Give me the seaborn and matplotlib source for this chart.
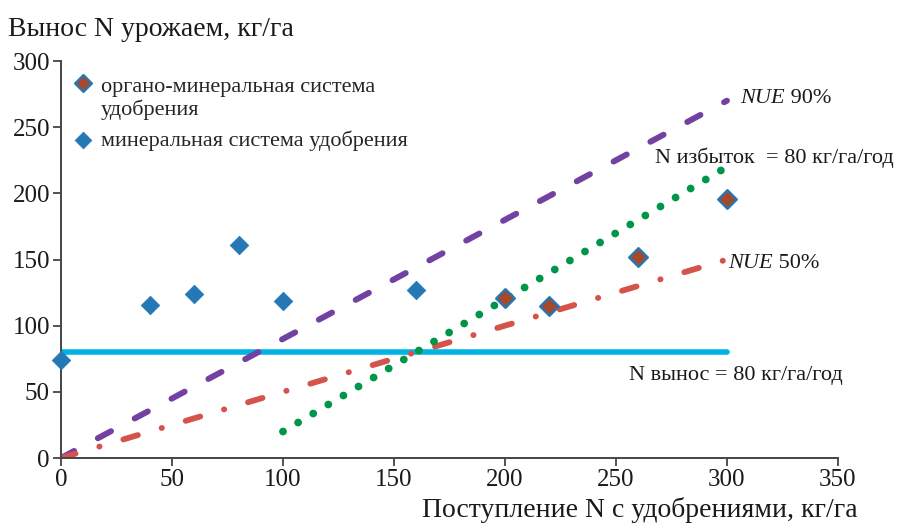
import matplotlib
matplotlib.use("Agg")
import matplotlib.pyplot as plt
from matplotlib.legend_handler import HandlerPathCollection
import seaborn as sns
import pandas as pd

# ---- data ----
mineral_x = [0, 40, 60, 80, 100, 160]
mineral_y = [74, 116, 124, 161, 119, 127]
organo_x = [200, 220, 260, 300]
organo_y = [121, 115, 152, 196]

line_x = [0, 300]
nue90_y = [0, 270]
nue50_y = [0, 150]
excess_x = [100, 300]
excess_y = [20, 220]
output_y = [80, 80]

x_ticks = [0, 50, 100, 150, 200, 250, 300, 350]
y_ticks = [0, 50, 100, 150, 200, 250, 300]

label_organo = "органо-минеральная система\nудобрения"
label_mineral = "минеральная система удобрения"

sns.set_theme(style="white")
plt.rcParams['font.family'] = ['Liberation Serif', 'DejaVu Serif']

fig = plt.figure(figsize=(9.01, 5.25), dpi=100)
ax = fig.add_axes([0.0677, 0.1276, 0.8623, 0.7562])

c_purple = "#7341a1"
c_red = "#d4544b"
c_green = "#00964a"
c_cyan = "#00b4e6"
c_blue = "#2378b5"
c_brown = "#a6482b"

# lines
sns.lineplot(x=line_x, y=output_y, ax=ax, color=c_cyan, linewidth=4.0,
             solid_capstyle='round', zorder=2)
sns.lineplot(x=line_x, y=nue90_y, ax=ax, color=c_purple, linewidth=4.3,
             linestyle=(0, (2.5, 4.5)), dash_capstyle='round', zorder=2)
sns.lineplot(x=line_x, y=nue50_y, ax=ax, color=c_red, linewidth=4.2,
             linestyle=(0, (2.6, 4.25, 0.05, 4.25)), dash_capstyle='round', zorder=2)
sns.lineplot(x=excess_x, y=excess_y, ax=ax, color=c_green, linewidth=5.6,
             linestyle=(0, (0.01, 2.25)), dash_capstyle='round', zorder=2)

# points
sns.scatterplot(x=mineral_x, y=mineral_y, ax=ax, marker='D', s=90,
                color=c_blue, edgecolor=c_blue, linewidth=0.5, zorder=3,
                label=label_mineral, clip_on=False)
sns.scatterplot(x=organo_x, y=organo_y, ax=ax, marker='D', s=90,
                color=c_brown, edgecolor=c_blue, linewidth=1.7, zorder=4,
                label=label_organo, clip_on=False)

ax.set_xlim(0, 350)
ax.set_ylim(0, 300)
ax.set_xticks(x_ticks)
ax.set_yticks(y_ticks)
ax.tick_params(axis='both', direction='out', length=6, width=1.3,
               color='#444444', labelsize=18, labelcolor='#1a1a1a', pad=2,
               left=True, bottom=True)
for side in ['top', 'right']:
    ax.spines[side].set_visible(False)
for side in ['left', 'bottom']:
    ax.spines[side].set_color('#444444')
    ax.spines[side].set_linewidth(1.4)
ax.set_xlabel("")
ax.set_ylabel("")

# legend (organo first)
handles, labels = ax.get_legend_handles_labels()
h_org = handles[labels.index(label_organo)]
h_min = handles[labels.index(label_mineral)]
leg = ax.legend([h_org, h_min], [label_organo, label_mineral],
                loc='upper left', bbox_to_anchor=(-0.006, 0.997), frameon=False,
                fontsize=16, handletextpad=0.29, labelspacing=0.45,
                borderaxespad=0.3, handlelength=1.0, markerscale=0.9,
                handler_map={h_org: HandlerPathCollection(yoffsets=[1.45])})

# annotations
fs = 16
t1 = ax.text(306, 272, "NUE", fontsize=fs, style='italic', va='center',
             ha='left', color='#1a1a1a')
ax.annotate(" 90%", xy=(1, 0), xycoords=t1, va='bottom', ha='left',
            fontsize=fs, color='#1a1a1a')
t2 = ax.text(300.5, 147, "NUE", fontsize=fs, style='italic', va='center',
             ha='left', color='#1a1a1a')
ax.annotate(" 50%", xy=(1, 0), xycoords=t2, va='bottom', ha='left',
            fontsize=fs, color='#1a1a1a')
ax.text(267.5, 227, "N избыток  = 80 кг/га/год", fontsize=fs, va='center',
        ha='left', color='#1a1a1a')
ax.text(256, 62, "N вынос = 80 кг/га/год", fontsize=fs, va='center',
        ha='left', color='#1a1a1a')

fig.text(8 / 901, 1 - 30 / 525, "Вынос N урожаем, кг/га", fontsize=20,
         va='center', ha='left', color='#1a1a1a')
fig.text(858 / 901, 1 - 510 / 525, "Поступление N с удобрениями, кг/га",
         fontsize=20, va='center', ha='right', color='#1a1a1a')

fig.savefig("out.png", dpi=100)
